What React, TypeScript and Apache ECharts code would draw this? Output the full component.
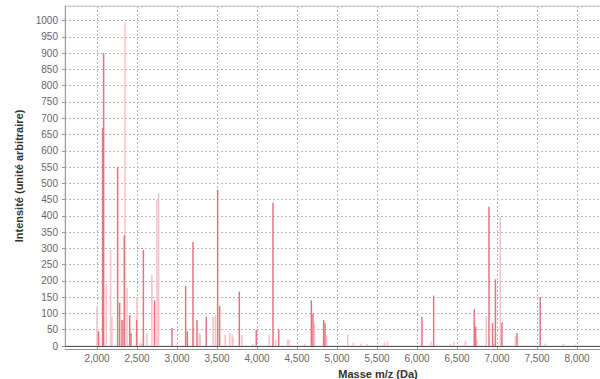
import React, { useEffect, useRef } from "react";
import * as echarts from "echarts";

// Peaks (m/z in Da, intensity in arbitrary units)
const strongMass = [2020, 2070, 2083, 2258, 2283, 2312, 2341, 2408, 2425, 2495, 2580, 2720, 2937, 3108, 3130, 3200, 3250, 3366, 3508, 3533, 3779, 3991, 4200, 4271, 4679, 4700, 4833, 4850, 6062, 6208, 6716, 6733, 6900, 6945, 6980, 7062, 7250, 7541];
const strongIntensity = [45, 670, 900, 550, 133, 80, 340, 95, 40, 80, 295, 140, 55, 185, 45, 320, 80, 90, 480, 123, 167, 50, 440, 50, 140, 100, 80, 70, 90, 155, 113, 60, 428, 70, 205, 72, 40, 150];

const lightMass = [2000, 2116, 2170, 2187, 2330, 2350, 2375, 2500, 2540, 2560, 2625, 2687, 2750, 2770, 3000, 3205, 3280, 3290, 3450, 3480, 3604, 3658, 3690, 3700, 3810, 3950, 4154, 4233, 4383, 4400, 4600, 4720, 4870, 5133, 5200, 5300, 5380, 5590, 5630, 6175, 6417, 6460, 6604, 6750, 6866, 6960, 7041, 7229, 7600, 7830, 7980];
const lightIntensity = [120, 190, 295, 90, 80, 995, 180, 150, 10, 8, 40, 218, 450, 470, 5, 55, 40, 35, 90, 95, 35, 40, 35, 28, 34, 6, 35, 18, 20, 20, 8, 70, 35, 35, 10, 8, 6, 10, 12, 13, 6, 12, 16, 20, 92, 8, 395, 30, 8, 6, 4];

const xTitle = "Masse m/z (Da)";
const yTitle = "Intensité (unité arbitraire)";

const X_MIN = 1600;
const X_MAX = 9425;
const X_LAST_LABEL = 8000;
const Y_MAX = 1045;

export default function App() {
  const ref = useRef<HTMLDivElement>(null);
  useEffect(() => {
    if (!ref.current) return;
    const chart = echarts.init(ref.current, null, { renderer: "svg" });
    const font = "Liberation Sans";
    const grid = "#b8b8b8";
    const xLabel = (v: number) => (v % 500 === 0 && v <= X_LAST_LABEL ? v.toLocaleString("en-US") : "");
    chart.setOption({
      animation: false,
      backgroundColor: "#ffffff",
      grid: {
        left: 65, top: 6, width: 626, height: 340,
        outerBoundsMode: "none", containLabel: false,
        show: true, borderColor: "#d0d0d0", borderWidth: 1,
      },
      xAxis: [
        {
          type: "value",
          min: X_MIN,
          max: X_MAX,
          splitNumber: 15,
          position: "bottom",
          axisLine: { show: true, lineStyle: { color: "#555", width: 1 } },
          axisTick: { show: false },
          axisLabel: { show: false },
          splitLine: { show: true, lineStyle: { color: grid, type: [2, 2], width: 1 } },
        },
        {
          type: "value",
          min: X_MIN,
          max: X_MAX,
          splitNumber: 15,
          position: "bottom",
          offset: 3,
          name: xTitle,
          nameLocation: "middle",
          nameGap: 19,
          nameTextStyle: { fontFamily: font, fontSize: 11, fontWeight: "bold", color: "#333" },
          axisLine: { show: true, lineStyle: { color: "#999", width: 1 } },
          axisTick: { show: true, inside: true, length: 2, lineStyle: { color: "#999" } },
          axisLabel: { show: true, formatter: xLabel, showMinLabel: false, showMaxLabel: false, margin: 4, fontFamily: font, fontSize: 10, color: "#666" },
          splitLine: { show: false },
        },
      ],
      yAxis: {
        type: "value",
        min: 0,
        max: Y_MAX,
        interval: 50,
        name: yTitle,
        nameLocation: "middle",
        nameGap: 36,
        nameTextStyle: { fontFamily: font, fontSize: 11, fontWeight: "bold", color: "#333" },
        axisLine: { show: true, lineStyle: { color: "#999" } },
        axisTick: { show: true, length: 3, lineStyle: { color: "#999" } },
        axisLabel: { showMaxLabel: false, margin: 7, fontFamily: font, fontSize: 10, color: "#666", formatter: (v: number) => String(v) },
        splitLine: { show: true, lineStyle: { color: grid, type: [2, 2], width: 1 } },
      },
      series: [
        {
          type: "bar",
          xAxisIndex: 0,
          barWidth: 1.5,
          barGap: "-100%",
          itemStyle: { color: "#f6c0c6" },
          data: lightMass.map((m, i) => [m, lightIntensity[i]]),
        },
        {
          type: "bar",
          xAxisIndex: 0,
          barWidth: 1.5,
          barGap: "-100%",
          itemStyle: { color: "#e7737f" },
          data: strongMass.map((m, i) => [m, strongIntensity[i]]),
        },
      ],
    });
    return () => chart.dispose();
  }, []);
  return <div ref={ref} style={{ position: "absolute", left: 0, top: 0, width: 600, height: 379 }} />;
}
